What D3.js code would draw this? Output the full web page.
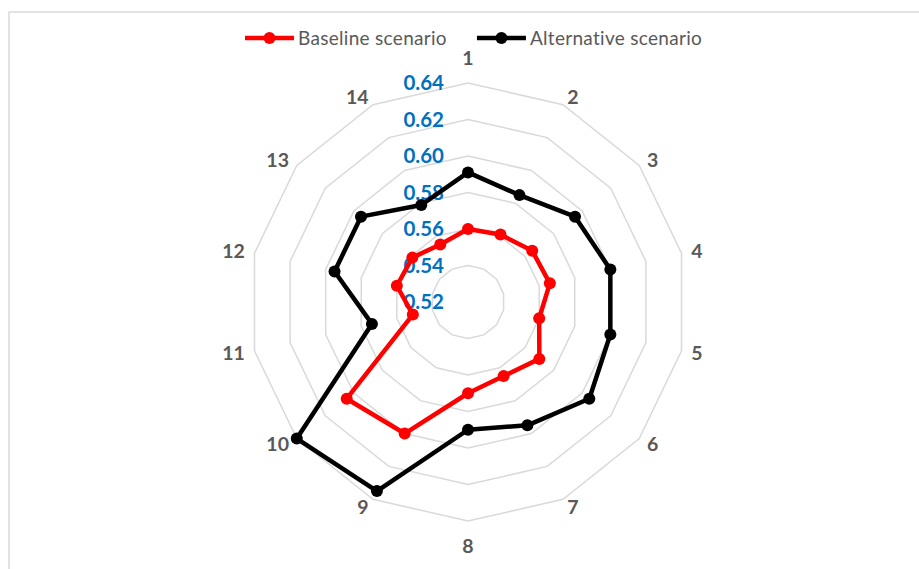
<!DOCTYPE html>
<html lang="en">
<head>
    <meta charset="UTF-8">
    <title>Radar chart</title>
    <script src="https://d3js.org/d3.v7.min.js"></script>
    <style>
        body { margin: 0; background: #fff; }
        svg { display: block; font-family: Lato, "Open Sans", sans-serif; }
    </style>
</head>
<body>
    <svg width="919" height="569"></svg>

    <script>
        const categories = ["1", "2", "3", "4", "5", "6", "7", "8", "9", "10", "11", "12", "13", "14"];
        const baseline = [0.560, 0.561, 0.565, 0.566, 0.560, 0.570, 0.565, 0.570, 0.600, 0.605, 0.551, 0.560, 0.559, 0.555];
        const alternative = [0.591, 0.585, 0.595, 0.600, 0.600, 0.605, 0.595, 0.590, 0.635, 0.640, 0.574, 0.595, 0.595, 0.579];
        const ticks = [0.52, 0.54, 0.56, 0.58, 0.60, 0.62, 0.64];
        const seriesNames = ["Baseline scenario", "Alternative scenario"];
        const seriesColors = ["#ff0000", "#000000"];

        const svg = d3.select("svg");
        const cx = 468, cy = 302, R = 219;

        // chart frame
        svg.append("rect")
            .attr("x", 9).attr("y", 12)
            .attr("width", 930).attr("height", 580)
            .attr("fill", "none")
            .attr("stroke", "#d9d9d9")
            .attr("stroke-width", 1.5);

        const r = d3.scaleLinear().domain([0.52, 0.64]).range([0, R]);
        const angle = d3.scaleLinear().domain([0, categories.length]).range([0, 2 * Math.PI]);

        const g = svg.append("g").attr("transform", `translate(${cx},${cy})`);

        // grid rings
        const ring = d3.lineRadial()
            .angle((d, i) => angle(i))
            .radius(d => r(d))
            .curve(d3.curveLinearClosed);

        g.selectAll("path.ring")
            .data(ticks.slice(1))
            .enter()
            .append("path")
            .attr("class", "ring")
            .attr("d", t => ring(categories.map(() => t)))
            .attr("fill", "none")
            .attr("stroke", "#d9d9d9")
            .attr("stroke-width", 1.5);

        // value labels
        g.selectAll("text.tick")
            .data(ticks)
            .enter()
            .append("text")
            .attr("class", "tick")
            .attr("x", -24)
            .attr("y", t => -r(t))
            .attr("dy", "0.36em")
            .attr("text-anchor", "end")
            .attr("fill", "#0070c0")
            .attr("font-weight", "bold")
            .attr("font-size", "20.5px")
            .text(t => t.toFixed(2));

        // category labels
        g.selectAll("text.cat")
            .data(categories)
            .enter()
            .append("text")
            .attr("class", "cat")
            .each(function (d, i) {
                const a = angle(i);
                const s = Math.sin(a), c = Math.cos(a);
                let anchor = "middle", x = 229 * s, y = -228 * c;
                if (s > 0.05) anchor = "start";
                else if (s < -0.05) anchor = "end";
                else y = -244 * c;
                d3.select(this)
                    .attr("x", x)
                    .attr("y", y)
                    .attr("dy", "0.36em")
                    .attr("text-anchor", anchor);
            })
            .attr("fill", "#595959")
            .attr("font-weight", "bold")
            .attr("font-size", "19.5px")
            .text(d => d);

        // series
        const line = d3.lineRadial()
            .angle((d, i) => angle(i))
            .radius(d => r(d))
            .curve(d3.curveLinearClosed);

        [baseline, alternative].forEach((values, k) => {
            const sg = g.append("g");
            sg.append("path")
                .attr("d", line(values))
                .attr("fill", "none")
                .attr("stroke", seriesColors[k])
                .attr("stroke-width", 4.5)
                .attr("stroke-linejoin", "round");
            sg.selectAll("circle")
                .data(values)
                .enter()
                .append("circle")
                .attr("cx", (d, i) => r(d) * Math.sin(angle(i)))
                .attr("cy", (d, i) => -r(d) * Math.cos(angle(i)))
                .attr("r", 6)
                .attr("fill", seriesColors[k]);
        });

        // legend
        const legend = svg.append("g").attr("transform", "translate(245,38)");
        let lx = 0;
        seriesNames.forEach((name, k) => {
            const item = legend.append("g").attr("transform", `translate(${lx},0)`);
            item.append("line")
                .attr("x1", 0).attr("x2", 49)
                .attr("stroke", seriesColors[k])
                .attr("stroke-width", 4.5);
            item.append("circle")
                .attr("cx", 24.5).attr("r", 6)
                .attr("fill", seriesColors[k]);
            const txt = item.append("text")
                .attr("x", 53)
                .attr("dy", "0.35em")
                .attr("fill", "#595959")
                .attr("font-size", "19px")
                .attr("letter-spacing", "0.3px")
                .text(name);
            lx += 53 + txt.node().getComputedTextLength() + 30;
        });
    </script>
</body>
</html>
